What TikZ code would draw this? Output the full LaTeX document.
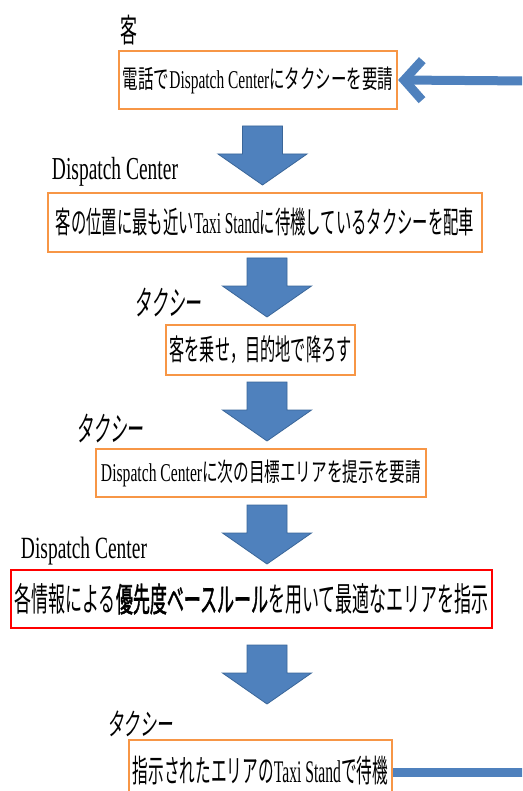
\documentclass[tikz,border=0pt]{standalone}
\usepackage{fontspec}
\usepackage{graphicx}
\setmainfont{Liberation Serif}
\newfontfamily\jp{Noto Sans CJK JP}
\newfontfamily\jpb[FakeBold=2]{Noto Sans CJK JP}
\newfontfamily\jpit[FakeSlant=0.2]{Noto Sans CJK JP}
\usetikzlibrary{arrows.meta}
\definecolor{boxorange}{HTML}{F79646}
\definecolor{boxred}{HTML}{FF0000}
\definecolor{arrblue}{HTML}{4F81BD}
\definecolor{arrblueline}{HTML}{3A6699}
\newcommand{\fitx}[3]{\resizebox*{#1pt}{#2pt}{#3}}
\newcommand{\barrow}[2]{\filldraw[fill=arrblue,draw=arrblueline,line width=0.8pt]
  (#1-20,#2) -- (#1+20,#2) -- (#1+20,#2+28) -- (#1+44.5,#2+28) -- (#1,#2+59)
  -- (#1-44.5,#2+28) -- (#1-20,#2+28) -- cycle;}
\tikzset{
  obox/.style={draw=boxorange,line width=2.2pt,fill=white,inner sep=0pt,anchor=center},
  rbox/.style={draw=boxred,line width=2.6pt,fill=white,inner sep=0pt,anchor=center},
  lbl/.style={inner sep=0pt,anchor=center},
  blueline/.style={draw=arrblue,line width=9pt}
}
\begin{document}
\begin{tikzpicture}[x=1pt,y=-1pt]
\useasboundingbox (0,0) rectangle (522,791);
\clip (0,0) rectangle (522,791);
\fill[white] (0,0) rectangle (522,791);

% labels
\node[lbl] (l1) at (129,30) {\fitx{17}{30}{\jp 客}};
\node[lbl] (l2) at (115,172) {\fitx{126}{29}{Dispatch Center}};
\node[lbl] (l3) at (168,302) {\fitx{67}{29}{\jpit タクシー}};
\node[lbl] (l4) at (110,428) {\fitx{67}{29}{\jpit タクシー}};
\node[lbl] (l5) at (84,551) {\fitx{126}{28}{Dispatch Center}};
\node[lbl] (l6) at (140,724) {\fitx{66}{26}{\jpit タクシー}};

% boxes
\node[obox,minimum width=278pt,minimum height=58pt] (b1) at (258,80)
  {\fitx{270}{27}{{\jp 電話で}Dispatch Center{\jp にタクシーを要請}}};
\node[obox,minimum width=434pt,minimum height=59pt] (b2) at (265,222.5)
  {\fitx{418}{28}{{\jp 客の位置に最も近い}Taxi Stand{\jp に待機しているタクシーを配車}}};
\node[obox,minimum width=189pt,minimum height=50pt] (b3) at (260.5,350)
  {\fitx{182}{28}{\jp 客を乗せ，目的地で降ろす}};
\node[obox,minimum width=330pt,minimum height=48pt] (b4) at (261,473)
  {\fitx{320}{27}{Dispatch Center{\jp に次の目標エリアを提示を要請}}};
\node[rbox,minimum width=481pt,minimum height=58pt] (b5) at (251.5,599)
  {\fitx{474}{31}{{\jp 各情報による}{\jpb 優先度ベースルール}{\jp を用いて最適なエリアを指示}}};
\node[obox,minimum width=263pt,minimum height=62pt] (b6) at (260.5,771)
  {\raisebox{-3pt}{\fitx{255}{29}{{\jp 指示されたエリアの}Taxi Stand{\jp で待機}}}};

% block arrows
\barrow{262.5}{126}
\barrow{267}{258}
\barrow{267}{382}
\barrow{267}{505}
\barrow{267}{645}

% feedback line
\coordinate (rt) at (530,81);
\coordinate (rb) at (530,772);
\draw[blueline,-{Straight Barb[length=18pt,width=40pt]}] (rt) -- (b1.east);
\draw[blueline] (rb) -- (b6.east |- rb);
\end{tikzpicture}
\end{document}
